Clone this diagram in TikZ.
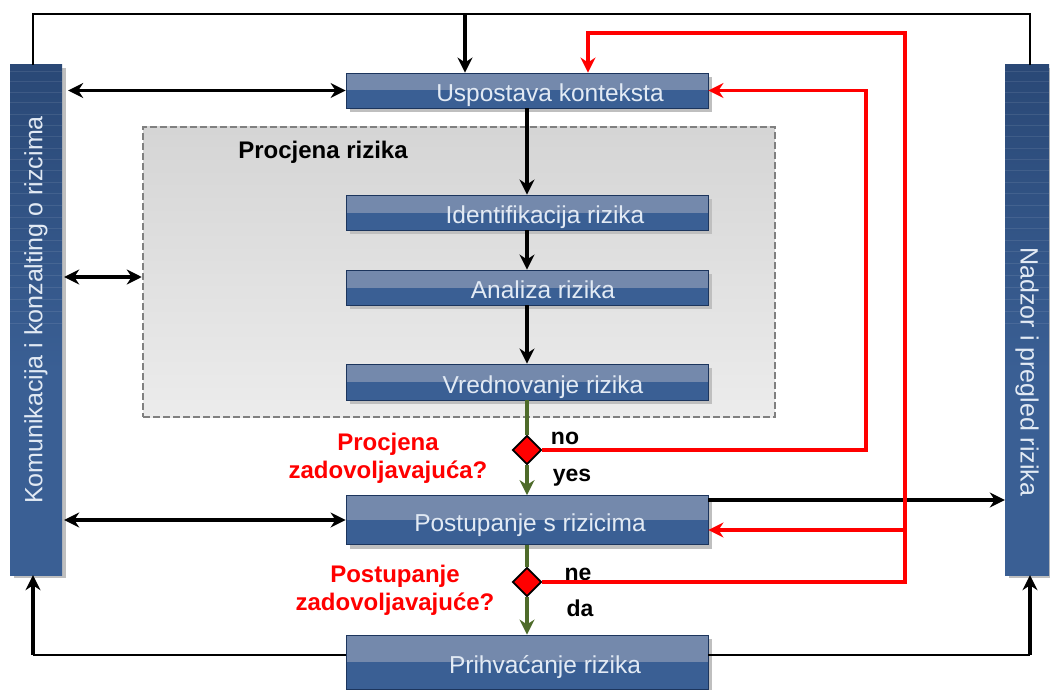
\documentclass[tikz,border=0pt]{standalone}
\usepackage{fontspec}
\setmainfont{Liberation Sans}
\usetikzlibrary{shapes.geometric,arrows.meta,shadows,calc}
\definecolor{boxdark}{HTML}{3A5F94}
\definecolor{boxlight}{HTML}{7489AC}
\definecolor{bartop}{HTML}{1C355D}
\definecolor{txtlight}{HTML}{E2EAF4}
\definecolor{okgreen}{HTML}{4E6B2A}
\pgfdeclareverticalshading{barshade}{100bp}{color(0bp)=(boxdark); color(45bp)=(boxdark); color(100bp)=(bartop)}
\pgfdeclareverticalshading{regionshade}{100bp}{color(0bp)=(gray!6); color(100bp)=(gray!42)}
\tikzset{
  stepbox/.style={draw=bartop, line width=0.8pt, fill=boxdark, minimum width=362pt,
    inner sep=0pt, text height=22.5pt, text depth=0pt, text=txtlight, font=\fontsize{24.5}{28}\selectfont,
    drop shadow={shadow xshift=4pt, shadow yshift=-4pt, fill=gray!50, opacity=1},
    path picture={\fill[boxlight] (path picture bounding box.north west) rectangle (path picture bounding box.east);}},
  sidebar/.style={shading=barshade, inner sep=0pt, text=txtlight, font=\fontsize{25}{28}\selectfont,
    drop shadow={shadow xshift=4pt, shadow yshift=-3pt, fill=gray!50, opacity=1},
    path picture={\foreach \i in {6,16,27,37,49,60,71,83,94,105,117,128,140,152,163,175,186,198,210,222,234,246,258}
      {\draw[white, opacity=0.09, line width=0.7pt] ($(path picture bounding box.north west)+(0,\i)$) -- ($(path picture bounding box.north east)+(0,\i)$);}}},
  decision/.style={diamond, draw=black, line width=1.8pt, fill=red, minimum width=29pt, minimum height=29pt, inner sep=0pt, aspect=1},
  blk/.style={line width=3.4pt, -{Stealth[length=15pt,width=15pt]}},
  dbl/.style={line width=3.4pt, {Stealth[length=15pt,width=15pt]}-{Stealth[length=15pt,width=15pt]}},
  frame/.style={line width=2.4pt},
  redarr/.style={line width=3.3pt, red, -{Stealth[length=15pt,width=15pt]}},
  grn/.style={line width=3.6pt, okgreen},
  grnarr/.style={line width=3.6pt, okgreen, -{Stealth[length=15pt,width=15pt]}},
  qlabel/.style={text=red, font=\bfseries\fontsize{24}{28}\selectfont, align=center},
  ans/.style={font=\bfseries\fontsize{23}{26}\selectfont},
}
\newcommand{\boxtext}[2]{\hspace*{#1}#2}
\begin{document}
\begin{tikzpicture}[x=1pt,y=-1pt]
\useasboundingbox (0,0) rectangle (1050,690);
% side bars
\node[sidebar, minimum width=52pt, minimum height=510pt] (kom) at (36,320)
  {\rotatebox{90}{\hspace*{20pt}Komunikacija i konzalting o rizcima}};
\node[sidebar, minimum width=44pt, minimum height=510pt] (nad) at (1027,320)
  {\rotatebox{-90}{\hspace*{104pt}Nadzor i pregled rizika}};
% assessment region
\node[draw=gray, dashed, dash pattern=on 7pt off 3pt, line width=2.5pt, minimum width=632pt, minimum height=290pt,
  shading=regionshade] (proc) at (459,272) {};
\node[font=\bfseries\fontsize{24}{28}\selectfont] (proclbl) at (323,152) {Procjena rizika};
% process boxes
\node[stepbox, minimum height=35pt] (usp) at (527,90.5) {\boxtext{46pt}{Uspostava konteksta}};
\node[stepbox, minimum height=35pt] (ide) at (527,212.5) {\boxtext{36pt}{Identifikacija rizika}};
\node[stepbox, minimum height=35pt] (ana) at (527,287.5) {\boxtext{32pt}{Analiza rizika}};
\node[stepbox, minimum height=36pt] (vre) at (527,382) {\boxtext{32pt}{Vrednovanje rizika}};
\node[decision] (d1) at (527,450) {};
\node[stepbox, minimum height=49pt] (pos) at (527,520) {\boxtext{6pt}{Postupanje s rizicima}};
\node[decision] (d2) at (527,582) {};
\node[stepbox, minimum height=54pt] (pri) at (527,662) {\boxtext{36pt}{Prihvaćanje rizika}};
% labels
\node[qlabel] (q1) at (388,458) {Procjena\\zadovoljavajuća?};
\node[qlabel] (q2) at (395,590) {Postupanje\\zadovoljavajuće?};
\node[ans] (no) at (565,438) {no};
\node[ans] (yes) at (572,478) {yes};
\node[ans] (ne) at (578,574) {ne};
\node[ans] (da) at (580,608) {da};
% main flow
\draw[blk] (usp) -- (ide);
\draw[blk] (ide) -- (ana);
\draw[blk] (ana) -- (vre);
\draw[grn] (vre) -- (d1);
\draw[grnarr] (d1) -- (pos);
\draw[grn] (pos) -- (d2);
\draw[grnarr] (d2) -- (pri);
% top frame
\coordinate (tl) at (33,14);
\coordinate (tr) at (1030,14);
\coordinate (ta) at (465,14);
\draw[frame] (tl |- kom.north) -- (tl) -- (tr) -- (tr |- nad.north);
\draw[blk] (ta) -- (ta |- usp.north);
% bottom frame
\coordinate (bl) at (33,655);
\coordinate (br) at (1030,655);
\draw[frame] (bl -| pri.west) -- (bl);
\draw[blk] (bl) -- (bl |- kom.south);
\draw[frame] (br -| pri.east) -- (br);
\draw[blk] (br) -- (br |- nad.south);
% communication arrows
\draw[dbl, shorten <=6pt] (kom.east |- usp.west) -- (usp.west);
\coordinate (pw) at ([yshift=-5pt]proc.west);
\draw[dbl, shorten <=2pt] (kom.east |- pw) -- (pw);
\draw[dbl, shorten <=2pt] (kom.east |- pos.west) -- (pos.west);
% monitoring arrow
\coordinate (pe) at ([yshift=20pt]pos.east);
\draw[blk] (pe) -- (pe -| nad.west);
% red feedback loops
\coordinate (r1) at (866,452);
\draw[redarr] (d1.east) -- (d1.east -| r1) |- (usp.east);
\coordinate (r2) at (905,33);
\coordinate (r2b) at (588,33);
\coordinate (pr) at ([yshift=-10pt]pos.east);
\draw[redarr] (d2.east) -- (d2.east -| r2) -- (r2) -- (r2b) -- (r2b |- usp.north);
\draw[redarr] (r2 |- pr) -- (pr);
\end{tikzpicture}
\end{document}
